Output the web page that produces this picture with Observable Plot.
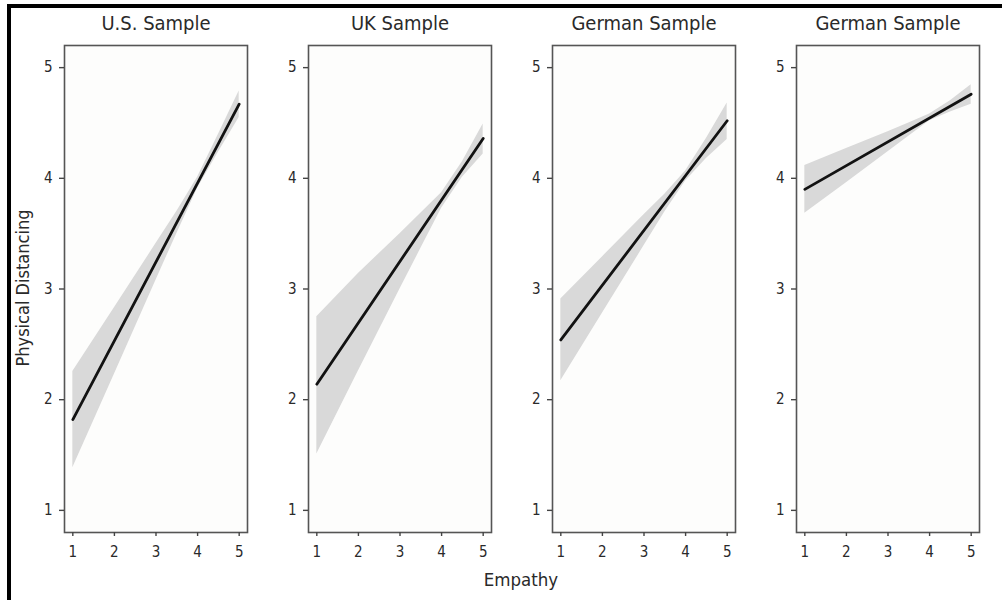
<!DOCTYPE html>
<html><head><meta charset="utf-8">
<script src="https://cdn.jsdelivr.net/npm/d3@7"></script>
<script src="https://cdn.jsdelivr.net/npm/@observablehq/plot@0.6"></script>
<style>
body{margin:0;background:#fff;}
#chart{position:relative;width:1002px;height:600px;overflow:hidden;background:#fff;font-family:"Liberation Sans Narrow","DejaVu Sans Condensed","Liberation Sans",sans-serif;color:#2a2a2a;}
#border{position:absolute;left:7px;top:4px;width:1100px;height:700px;border-top:4px solid #000;border-left:4px solid #000;box-sizing:border-box;}
.panel{position:absolute;top:0;}
#ytitle{position:absolute;left:22px;top:288px;transform:translate(-50%,-50%) rotate(-90deg);font-size:18px;white-space:nowrap;}
#xtitle{position:absolute;left:521px;top:579px;transform:translate(-50%,-50%);font-size:18.5px;white-space:nowrap;}
</style></head>
<body>
<div id="chart"><div id="border"></div></div>
<script>
// ---- data ----
const panelTitles = ["U.S. Sample", "UK Sample", "German Sample", "German Sample"];
const xTicks = [1, 2, 3, 4, 5];
const yTicks = [1, 2, 3, 4, 5];
const xLabel = "Empathy";
const yLabel = "Physical Distancing";

const lineX = [1, 5];
const fitUS  = [1.82, 4.67];
const fitUK  = [2.14, 4.36];
const fitDE1 = [2.54, 4.52];
const fitDE2 = [3.90, 4.76];

const bandX = [1, 2, 3, 3.5, 4, 4.5, 5];
const loUS  = [1.385, 2.23, 3.08, 3.50, 3.91, 4.235, 4.55];
const hiUS  = [2.255, 2.83, 3.41, 3.70, 4.01, 4.395, 4.79];
const loUK  = [1.51, 2.26, 3.00, 3.365, 3.73, 4.01, 4.22];
const hiUK  = [2.75, 3.14, 3.50, 3.685, 3.87, 4.15, 4.49];
const loDE1 = [2.17, 2.78, 3.39, 3.695, 3.975, 4.18, 4.35];
const hiDE1 = [2.91, 3.29, 3.67, 3.855, 4.065, 4.36, 4.68];
const loDE2 = [3.685, 3.96, 4.24, 4.38, 4.52, 4.60, 4.67];
const hiDE2 = [4.115, 4.27, 4.42, 4.50, 4.58, 4.70, 4.845];

const fits = [fitUS, fitUK, fitDE1, fitDE2];
const los = [loUS, loUK, loDE1, loDE2];
const his = [hiUS, hiUK, hiDE1, hiDE2];

// ---- drawing ----
const chart = document.getElementById("chart");
const mL = 40, mR = 4, mT = 45, mB = 68, frameW = 183, step = 244, firstFrame = 64;
const fontFam = '"Liberation Sans Narrow","DejaVu Sans Condensed","Liberation Sans",sans-serif';

panelTitles.forEach((title, i) => {
  const band = bandX.map((x, j) => ({x, lo: los[i][j], hi: his[i][j]}));
  const line = lineX.map((x, j) => ({x, y: fits[i][j]}));
  const svg = Plot.plot({
    width: mL + frameW + mR,
    height: 600,
    marginLeft: mL, marginRight: mR, marginTop: mT, marginBottom: mB,
    style: {fontFamily: fontFam, background: "transparent", color: "#2a2a2a", overflow: "visible"},
    x: {domain: [0.8, 5.2]},
    y: {domain: [0.8, 5.2]},
    marks: [
      Plot.frame({fill: "#fdfdfc"}),
      Plot.areaY(band, {x: "x", y1: "lo", y2: "hi", fill: "#d9d9d9"}),
      Plot.line(line, {x: "x", y: "y", stroke: "#121212", strokeWidth: 2.8}),
      Plot.frame({stroke: "#555", strokeWidth: 1.6}),
      Plot.axisX({ticks: xTicks, tickFormat: "d", tickSize: 4, tickPadding: 10, fontSize: 15, label: null, stroke: "#444", strokeWidth: 1.4}),
      Plot.axisY({ticks: yTicks, tickFormat: "d", tickSize: 5, tickPadding: 7, fontSize: 15, label: null, stroke: "#444", strokeWidth: 1.4}),
      Plot.text([title], {text: d => d, frameAnchor: "top", lineAnchor: "middle", dy: -22, fontSize: 20, fill: "#2a2a2a"})
    ]
  });
  svg.classList.add("panel");
  svg.style.left = (firstFrame + i * step - mL) + "px";
  chart.appendChild(svg);
});

const yt = document.createElement("div");
yt.id = "ytitle"; yt.textContent = yLabel; chart.appendChild(yt);
const xt = document.createElement("div");
xt.id = "xtitle"; xt.textContent = xLabel; chart.appendChild(xt);
</script>
</body></html>
